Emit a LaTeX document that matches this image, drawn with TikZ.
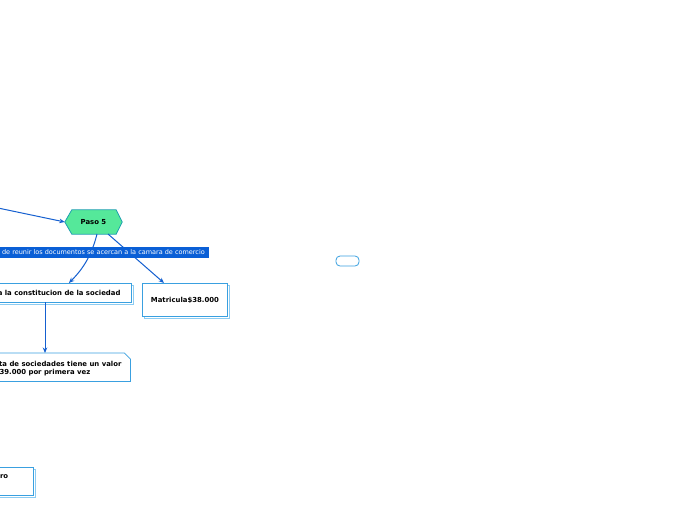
\documentclass[tikz,border=0pt]{standalone}
\usepackage{fontspec}
\setmainfont{DejaVu Sans}
\usetikzlibrary{arrows.meta}
\definecolor{hexfill}{HTML}{55E89A}
\definecolor{hexline}{HTML}{1E9FB0}
\definecolor{conn}{HTML}{1560D0}
\definecolor{lab}{HTML}{0A5FD6}
\definecolor{boxline}{HTML}{3AA0E0}
\definecolor{boxshadow}{HTML}{8CCCF2}
\tikzset{
  conn/.style={draw=conn, line width=1pt, -{Stealth[length=5.5pt,width=4.5pt]}},
  boxtext/.style={font=\fontsize{6.9}{8}\selectfont\bfseries, text=black},
  shadowbox/.style={draw=boxshadow, line width=0.9pt, fill=white},
  mainbox/.style={draw=boxline, line width=0.9pt, fill=white},
}
\begin{document}
\begin{tikzpicture}[x=1pt,y=-1pt]
\useasboundingbox (0,0) rectangle (696,520);
\clip (0,0) rectangle (696,520);
\fill[white] (0,0) rectangle (696,520);
% hexagon
\node[minimum width=57pt, minimum height=24pt, inner sep=0pt] (p5) at (93.5,222) {};
\fill[hexfill, draw=hexline, line width=0.8pt] (p5.west) -- ([xshift=7pt]p5.north west) -- ([xshift=-6pt]p5.north east) -- (p5.east) -- ([xshift=-6pt]p5.south east) -- ([xshift=7pt]p5.south west) -- cycle;
\node[boxtext] at (p5) {Paso 5};
% incoming connector
\coordinate (in) at (-2,208);
\draw[conn] (in) -- (p5.west);
% box 1
\fill[shadowbox] (-10,285) rectangle (133,304);
\node[mainbox, minimum width=141pt, minimum height=19pt, inner sep=0pt, anchor=north west] (b1) at (-10,283) {};
\node[boxtext, anchor=east] (b1t) at (124,292.5) {a la constitucion de la sociedad};
% box 2
\fill[shadowbox] (144,285) rectangle (229,318);
\node[mainbox, minimum width=85pt, minimum height=33pt, inner sep=0pt, anchor=north west] (b2) at (142,283) {};
\node[boxtext] at (b2) {Matricula\$38.000};
% connectors from Paso 5
\coordinate (s1) at (97,234);
\coordinate (s2) at (108,234);
\draw[conn] (s1) .. controls (92,254) and (84,268) .. ([xshift=-63pt]b1.north east);
\draw[conn] (s2) -- ([xshift=22pt]b2.north west);
% label
\node[fill=lab, text=white, font=\fontsize{6.5}{8}\selectfont, inner xsep=4pt, inner ysep=0pt, minimum height=11pt, anchor=east] (lbl) at (209,252.5) {de reunir los documentos se acercan a la camara de comercio};
% box 3 folded
\node[minimum width=140pt, minimum height=28pt, inner sep=0pt, anchor=north west] (b3) at (-10,353) {};
\draw[boxline, line width=0.8pt, fill=white] (b3.north west) -- ([xshift=-6pt]b3.north east) -- ([yshift=-6pt]b3.north east) -- (b3.south east) -- (b3.south west) -- cycle;
\node[boxtext, anchor=north east, align=left] at (125,358) {ta de sociedades tiene un valor};
\node[boxtext, anchor=north west, align=left] at (-4,366) {39.000 por primera vez};
\draw[conn] (45,302) -- (45,353);
% box 4
\fill[shadowbox] (-10,469) rectangle (35,497);
\node[mainbox, minimum width=43pt, minimum height=28pt, inner sep=0pt, anchor=north west] (b4) at (-10,467) {};
\node[boxtext, anchor=west] at (-3.5,477) {ro};
% small rounded
\node[draw=boxline, line width=0.8pt, rounded corners=4pt, minimum width=23pt, minimum height=10pt, inner sep=0pt] (sm) at (347.5,261) {};
\end{tikzpicture}
\end{document}
